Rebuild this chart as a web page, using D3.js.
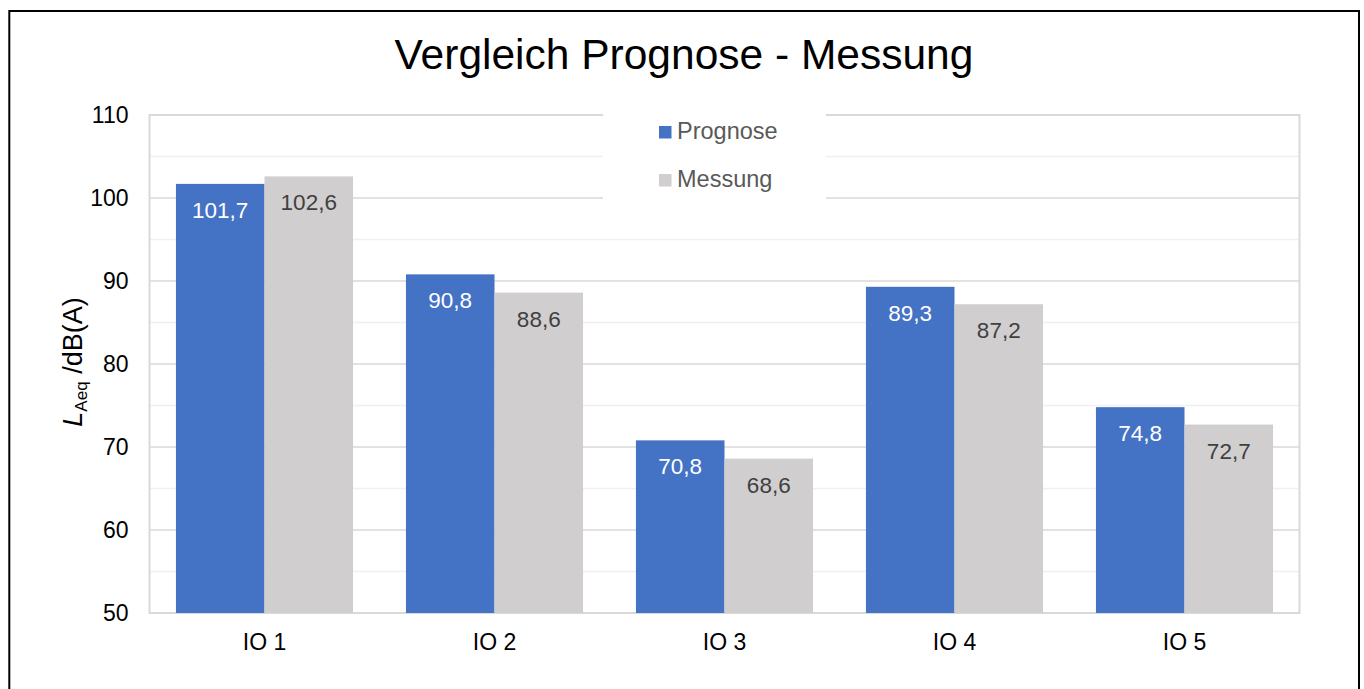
<!DOCTYPE html>
<html>
<head>
<meta charset="utf-8">
<script src="https://cdn.jsdelivr.net/npm/d3@7"></script>
<style>
    body { margin: 0; background: #fff; }
    svg { font-family: "Liberation Sans", Arial, sans-serif; }
</style>
</head>
<body>
<div id="chart"></div>
<script>
// data
const categories = ["IO 1", "IO 2", "IO 3", "IO 4", "IO 5"];
const seriesNames = ["Prognose", "Messung"];
const prognose = [101.7, 90.8, 70.8, 89.3, 74.8];
const messung = [102.6, 88.6, 68.6, 87.2, 72.7];
const yTicks = [50, 60, 70, 80, 90, 100, 110];
const yMinorTicks = [55, 65, 75, 85, 95, 105];

const colors = {Prognose: "#4472C4", Messung: "#D0CECE"};
const labelColors = {Prognose: "#ffffff", Messung: "#404040"};

/** Class drawing the grouped bar chart */
class CompareChart {

    constructor() {
        this.width = 1364;
        this.height = 689;
        this.margin = {top: 115, right: 64.5, bottom: 76, left: 149.5};

        this.svg = d3.select("#chart").append("svg")
            .attr("width", this.width)
            .attr("height", this.height);

        // outer frame, bottom edge runs off the picture
        this.svg.append("rect")
            .attr("x", 9.3).attr("y", 11)
            .attr("width", 1349.7).attr("height", 720)
            .attr("fill", "#fff")
            .attr("stroke", "#000")
            .attr("stroke-width", 2);
    }

    update() {
        let _this = this;
        let m = this.margin;
        let x0 = m.left, x1 = this.width - m.right;
        let y0 = m.top, y1 = this.height - m.bottom;

        let rows = categories.map((c, i) => ({cat: c, Prognose: prognose[i], Messung: messung[i]}));

        let xScale = d3.scaleBand()
            .domain(categories)
            .range([x0, x1])
            .paddingInner(0.23)
            .paddingOuter(0.115);

        let xSub = d3.scaleBand()
            .domain(seriesNames)
            .range([0, xScale.bandwidth()]);

        let yScale = d3.scaleLinear()
            .domain([50, 110])
            .range([y1, y0]);

        // minor grid
        _this.svg.append("g").selectAll("line").data(yMinorTicks).enter()
            .append("line")
            .attr("x1", x0).attr("x2", x1)
            .attr("y1", d => yScale(d)).attr("y2", d => yScale(d))
            .attr("stroke", "#f0f0f0")
            .attr("stroke-width", 1.5);

        // major grid
        _this.svg.append("g").selectAll("line").data(yTicks).enter()
            .append("line")
            .attr("x1", x0).attr("x2", x1)
            .attr("y1", d => yScale(d)).attr("y2", d => yScale(d))
            .attr("stroke", "#d9d9d9")
            .attr("stroke-width", 1.5);

        // plot area border
        _this.svg.append("rect")
            .attr("x", x0).attr("y", y0)
            .attr("width", x1 - x0).attr("height", y1 - y0)
            .attr("fill", "none")
            .attr("stroke", "#d9d9d9")
            .attr("stroke-width", 2);

        // bars
        let groups = _this.svg.append("g").selectAll("g").data(rows).enter()
            .append("g")
            .attr("transform", d => "translate(" + xScale(d.cat) + ",0)");

        groups.selectAll("rect")
            .data(d => seriesNames.map(s => ({key: s, value: d[s]})))
            .enter().append("rect")
            .attr("x", d => xSub(d.key))
            .attr("y", d => yScale(d.value))
            .attr("width", xSub.bandwidth())
            .attr("height", d => y1 - yScale(d.value))
            .attr("fill", d => colors[d.key]);

        groups.selectAll("text")
            .data(d => seriesNames.map(s => ({key: s, value: d[s]})))
            .enter().append("text")
            .attr("x", d => xSub(d.key) + xSub.bandwidth() / 2)
            .attr("y", d => yScale(d.value) + 34)
            .attr("text-anchor", "middle")
            .attr("font-size", 22.5)
            .attr("fill", d => labelColors[d.key])
            .text(d => d.value.toFixed(1).replace(".", ","));

        // y axis labels
        _this.svg.append("g").selectAll("text").data(yTicks).enter()
            .append("text")
            .attr("x", 128.5)
            .attr("y", d => yScale(d) + 8)
            .attr("text-anchor", "end")
            .attr("font-size", 23)
            .attr("fill", "#000")
            .text(d => d);

        // x axis labels
        _this.svg.append("g").selectAll("text").data(categories).enter()
            .append("text")
            .attr("x", d => xScale(d) + xScale.bandwidth() / 2)
            .attr("y", 650)
            .attr("text-anchor", "middle")
            .attr("font-size", 23)
            .attr("fill", "#000")
            .text(d => d);

        // y axis title
        let yTitle = _this.svg.append("text")
            .attr("transform", "translate(82,362) rotate(-90)")
            .attr("text-anchor", "middle")
            .attr("font-size", 27)
            .attr("fill", "#000");
        yTitle.append("tspan").attr("font-style", "italic").text("L");
        yTitle.append("tspan").attr("font-size", 17).attr("dy", 5).text("Aeq");
        yTitle.append("tspan").attr("dy", -5).text(" /dB(A)");

        // title
        _this.svg.append("text")
            .attr("x", 684)
            .attr("y", 68.5)
            .attr("text-anchor", "middle")
            .attr("font-size", 42.5)
            .attr("fill", "#000")
            .text("Vergleich Prognose - Messung");

        // legend, white box over the grid
        let legend = _this.svg.append("g");
        legend.append("rect")
            .attr("x", 603).attr("y", 104)
            .attr("width", 223).attr("height", 102)
            .attr("fill", "#fff");
        let items = legend.selectAll("g").data(seriesNames).enter()
            .append("g")
            .attr("transform", (d, i) => "translate(659," + (126 + i * 48) + ")");
        items.append("rect")
            .attr("width", 12.5).attr("height", 12.5)
            .attr("fill", d => colors[d]);
        items.append("text")
            .attr("x", 18).attr("y", 13)
            .attr("font-size", 23.5)
            .attr("fill", "#595959")
            .text(d => d);
    }
}

let chart = new CompareChart();
chart.update();
</script>
</body>
</html>
